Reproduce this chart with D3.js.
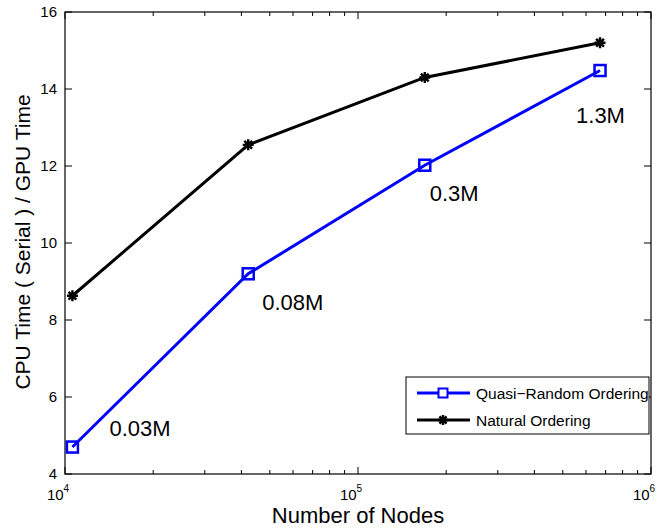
<!DOCTYPE html>
<html>
<head>
<meta charset="utf-8">
<script src="https://cdn.jsdelivr.net/npm/d3@7"></script>
<style>
  body { margin: 0; background: #fff; }
  text { font-family: "Liberation Sans", Arial, sans-serif; fill: #000; }
</style>
</head>
<body>
<div id="chart"></div>
<script>
// data
const nodes = [10600, 42200, 169000, 670000];
const quasiRandom = [4.70, 9.2, 12.02, 14.48];
const natural = [8.63, 12.55, 14.3, 15.2];
const sizeLabels = ['0.03M', '0.08M', '0.3M', '1.3M'];
const yTicks = [4, 6, 8, 10, 12, 14, 16];
const xDecades = [4, 5, 6];

const width = 664, height = 529;
const margin = {left: 65, right: 13, top: 12, bottom: 55};

const svg = d3.select('#chart').append('svg')
  .attr('width', width).attr('height', height);

const x = d3.scaleLog().domain([1e4, 1e6]).range([margin.left, width - margin.right]);
const y = d3.scaleLinear().domain([4, 16]).range([height - margin.bottom, margin.top]);

const x0 = x.range()[0], x1 = x.range()[1];
const y0 = y.range()[0], y1 = y.range()[1];

// ticks (inside, on all four sides)
const minors = [];
for (let d = 4; d < 6; d++) {
  for (let m = 2; m <= 9; m++) minors.push(m * Math.pow(10, d));
}
const tg = svg.append('g').attr('stroke', '#000').attr('stroke-width', 1);
minors.forEach(v => {
  tg.append('line').attr('x1', x(v)).attr('x2', x(v)).attr('y1', y0).attr('y2', y0 - 4);
  tg.append('line').attr('x1', x(v)).attr('x2', x(v)).attr('y1', y1).attr('y2', y1 + 4);
});
xDecades.forEach(d => {
  const v = Math.pow(10, d);
  tg.append('line').attr('x1', x(v)).attr('x2', x(v)).attr('y1', y0).attr('y2', y0 - 7);
  tg.append('line').attr('x1', x(v)).attr('x2', x(v)).attr('y1', y1).attr('y2', y1 + 7);
});
yTicks.forEach(v => {
  tg.append('line').attr('x1', x0).attr('x2', x0 + 7).attr('y1', y(v)).attr('y2', y(v));
  tg.append('line').attr('x1', x1).attr('x2', x1 - 7).attr('y1', y(v)).attr('y2', y(v));
});

// box
svg.append('rect')
  .attr('x', x0).attr('y', y1).attr('width', x1 - x0).attr('height', y0 - y1)
  .attr('fill', 'none').attr('stroke', '#000').attr('stroke-width', 1.2);

// y tick labels
svg.append('g').selectAll('text').data(yTicks).join('text')
  .attr('x', x0 - 8).attr('y', d => y(d) + 5)
  .attr('text-anchor', 'end').attr('font-size', 15)
  .text(d => d);

// x tick labels 10^k
const xl = svg.append('g').selectAll('text').data(xDecades).join('text')
  .attr('x', d => x(Math.pow(10, d)) - 7).attr('y', y0 + 26)
  .attr('text-anchor', 'middle').attr('font-size', 15);
xl.append('tspan').text('10');
xl.append('tspan').attr('dy', -8).attr('font-size', 10).text(d => d);

// axis titles
svg.append('text')
  .attr('x', (x0 + x1) / 2).attr('y', 523)
  .attr('text-anchor', 'middle').attr('font-size', 22)
  .text('Number of Nodes');
svg.append('text')
  .attr('transform', `translate(30,242) rotate(-90)`)
  .attr('text-anchor', 'middle').attr('font-size', 21)
  .text('CPU Time ( Serial ) / GPU Time');

const line = d3.line().x(d => x(d[0])).y(d => y(d[1]));

function asterisk(g, cx, cy, r) {
  const p = [];
  for (let a = 0; a < 4; a++) {
    const t = a * Math.PI / 4;
    p.push(`M${cx - r * Math.cos(t)},${cy - r * Math.sin(t)}L${cx + r * Math.cos(t)},${cy + r * Math.sin(t)}`);
  }
  g.append('path').attr('d', p.join('')).attr('stroke', '#000').attr('stroke-width', 2.4).attr('fill', 'none');
}

// natural ordering
const natPts = nodes.map((n, i) => [n, natural[i]]);
svg.append('path').datum(natPts).attr('d', line)
  .attr('fill', 'none').attr('stroke', '#000').attr('stroke-width', 3);
const ng = svg.append('g');
natPts.forEach(p => asterisk(ng, x(p[0]), y(p[1]), 5.5));

// quasi-random ordering
const qPts = nodes.map((n, i) => [n, quasiRandom[i]]);
svg.append('path').datum(qPts).attr('d', line)
  .attr('fill', 'none').attr('stroke', '#0000ff').attr('stroke-width', 3);
svg.append('g').selectAll('rect').data(qPts).join('rect')
  .attr('x', d => x(d[0]) - 5.5).attr('y', d => y(d[1]) - 5.5)
  .attr('width', 11).attr('height', 11)
  .attr('fill', 'none').attr('stroke', '#0000ff').attr('stroke-width', 2.5);

// size annotations
const labelOffsets = [[37, -11], [14, 36], [5, 36], [-24, 52]];
svg.append('g').selectAll('text').data(qPts).join('text')
  .attr('x', (d, i) => x(d[0]) + labelOffsets[i][0])
  .attr('y', (d, i) => y(d[1]) + labelOffsets[i][1])
  .attr('font-size', 22)
  .text((d, i) => sizeLabels[i]);

// legend
const lg = svg.append('g').attr('transform', 'translate(406,377)');
lg.append('rect').attr('width', 243).attr('height', 57)
  .attr('fill', '#fff').attr('stroke', '#000').attr('stroke-width', 1);
lg.append('line').attr('x1', 11).attr('x2', 64).attr('y1', 16).attr('y2', 16)
  .attr('stroke', '#0000ff').attr('stroke-width', 3);
lg.append('rect').attr('x', 32.5).attr('y', 11.5).attr('width', 9).attr('height', 9)
  .attr('fill', '#fff').attr('stroke', '#0000ff').attr('stroke-width', 2);
lg.append('line').attr('x1', 11).attr('x2', 64).attr('y1', 43).attr('y2', 43)
  .attr('stroke', '#000').attr('stroke-width', 3);
asterisk(lg, 37, 43, 5);
lg.append('text').attr('x', 70).attr('y', 22).attr('font-size', 15.5).text('Quasi\u2212Random Ordering');
lg.append('text').attr('x', 70).attr('y', 49).attr('font-size', 15.5).text('Natural Ordering');
</script>
</body>
</html>
